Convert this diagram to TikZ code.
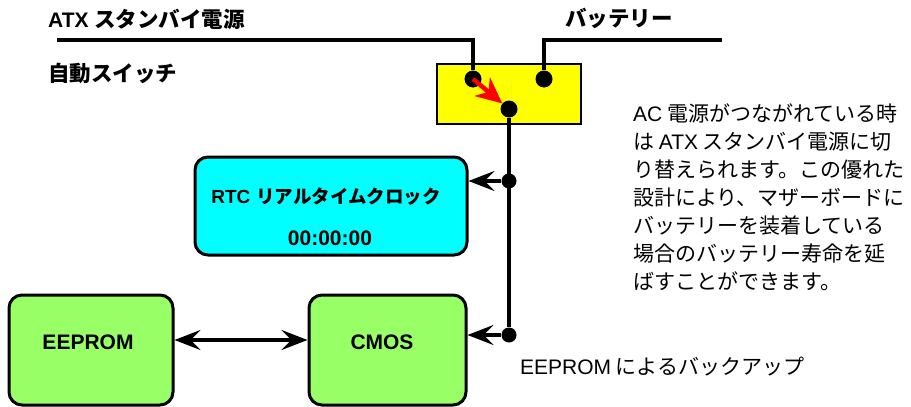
\documentclass[tikz,border=0pt]{standalone}
\usepackage{fontspec}
\setmainfont{Liberation Sans}
\newfontfamily\lat{Liberation Sans}
\newfontfamily\jp{Noto Sans CJK JP}
\usetikzlibrary{arrows.meta}
\definecolor{rtccyan}{RGB}{0,255,255}
\definecolor{memgreen}{RGB}{153,255,102}
\definecolor{swyellow}{RGB}{255,255,0}
\definecolor{swred}{RGB}{255,0,0}
\begin{document}
\begin{tikzpicture}[x=1pt,y=-1pt,
  wire/.style={line width=3.2pt},
  dotnode/.style={circle,fill=black,inner sep=0pt,minimum size=17pt},
  roundbox/.style={draw,line width=3pt,rounded corners=13pt,inner sep=0pt},
  lbl/.style={inner sep=0pt,font=\bfseries\fontsize{21}{24}\selectfont},
  note/.style={inner sep=0pt,font=\jp\fontsize{21}{28}\selectfont},
  arr/.style={-{Stealth[length=26pt,width=20pt,inset=10pt]}},
  dblarr/.style={{Stealth[length=26pt,width=20pt,inset=10pt]}-{Stealth[length=26pt,width=20pt,inset=10pt]}},
]
\useasboundingbox (0,0) rectangle (911,407);

% switch box
\node[draw,line width=2.6pt,fill=swyellow,minimum width=144pt,minimum height=60pt,inner sep=0pt] (switch) at (509,94) {};

% labels
\node[lbl,anchor=west] (atxlbl) at (48,19) {{\lat ATX} {\jp\fontsize{21.5}{24}\selectfont スタンバイ電源}};
\node[lbl,anchor=west] (batlbl) at (565,18) {\jp\fontsize{21.5}{24}\selectfont バッテリー};
\node[lbl,anchor=west] (autolbl) at (48,73) {\jp\fontsize{21.5}{24}\selectfont 自動スイッチ};

% contacts
\node[dotnode] (sa) at (473,79) {};
\node[dotnode] (sb) at (544,79) {};
\node[dotnode] (so) at (509,109) {};
\coordinate (atxin) at (57,40);
\coordinate (batin) at (722,40);

\draw[wire] (atxin) -| (sa);
\draw[wire] (batin) -| (sb);

% boxes
\node[roundbox,fill=rtccyan,minimum width=272pt,minimum height=98pt] (rtc) at (331,206) {};
\node[lbl,anchor=center] (rtct) at (326,197) {{\lat\fontsize{19}{22}\selectfont RTC} {\jp\fontsize{18.5}{22}\selectfont リアルタイムクロック}};
\node[lbl,anchor=center] (rtctime) at (330,238) {00:00:00};

\node[roundbox,fill=memgreen,minimum width=164pt,minimum height=110pt] (eeprom) at (91,350) {};
\node[lbl,anchor=center] (eepromt) at (88,342) {EEPROM};
\node[roundbox,fill=memgreen,minimum width=157pt,minimum height=110pt] (cmos) at (387.5,350) {};
\node[lbl,anchor=center] (cmost) at (382,342) {CMOS};

% junctions
\node[dotnode,minimum size=15pt] (j1) at (509,181) {};
\node[dotnode,minimum size=15pt] (j2) at (509,335) {};

\draw[wire] (so) -- (j2);
\draw[wire,arr] (j1) -- (j1 -| rtc.east);
\draw[wire,arr] (j2) -- (j2 -| cmos.east);
\draw[wire,dblarr] ([yshift=10pt]eeprom.east) -- ([yshift=10pt]cmos.west);

% red switch arrow
\draw[swred,line width=4.5pt,-{Stealth[length=26pt,width=24pt,inset=8pt]}] (sa.center) -- (so);

% notes
\node[note,anchor=north west,align=left] (desc) at (633,104) {{\lat AC} 電源がつながれている時\\は {\lat ATX} スタンバイ電源に切\\り替えられます。この優れた\\設計により、マザーボードに\\バッテリーを装着している\\場合のバッテリー寿命を延\\ばすことができます。};
\node[note,anchor=west] (backup) at (520,367) {{\lat EEPROM} によるバックアップ};
\end{tikzpicture}
\end{document}
